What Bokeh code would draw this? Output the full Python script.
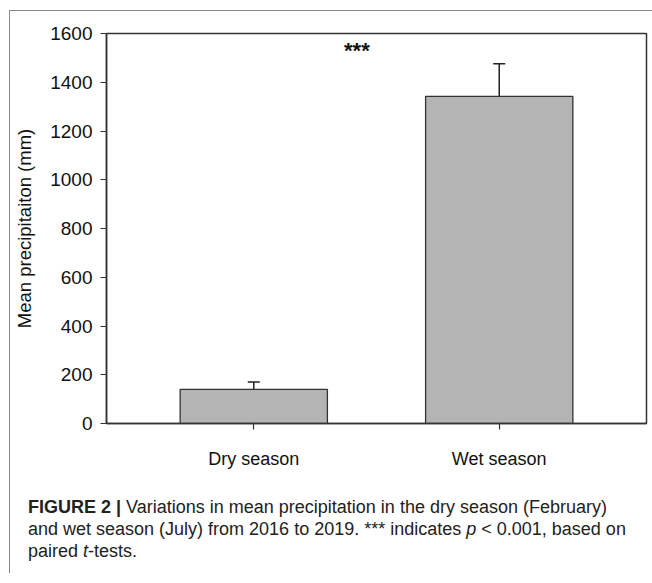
from bokeh.plotting import figure
from bokeh.models import Range1d, FixedTicker, Whisker, TeeHead, ColumnDataSource, Div
from bokeh.layouts import column
from bokeh.core.properties import value
from bokeh.embed import file_html
from bokeh.resources import INLINE

# ---- data ----
categories = ["Dry season", "Wet season"]
mean_precip = [140, 1342]
error_up = [30, 134]
y_ticks = [0, 200, 400, 600, 800, 1000, 1200, 1400, 1600]
significance = "***"

positions = [i + 1 for i in range(len(categories))]
src = ColumnDataSource(dict(
    x=positions,
    top=mean_precip,
    upper=[m + e for m, e in zip(mean_precip, error_up)],
))

FONT = "Liberation Sans"

p = figure(width=638, height=480, output_backend="svg", toolbar_location=None,
           x_range=Range1d(0.4, 2.6), y_range=Range1d(0, 1600),
           min_border_left=96, min_border_right=2, min_border_top=22, min_border_bottom=68)
p.background_fill_color = "white"
p.border_fill_color = "white"
p.outline_line_color = "#333333"
p.outline_line_width = 1.5
p.grid.visible = False

p.vbar(x="x", top="top", width=0.6, source=src, fill_color="#b4b4b4",
       line_color="#333333", line_width=1.3)

wh = Whisker(base="x", lower="top", upper="upper", source=src,
             line_color="#222222", line_width=1.5, lower_head=None,
             upper_head=TeeHead(size=12, line_color="#222222", line_width=1.5))
p.add_layout(wh)

p.text(x=[1.42], y=[1530], text=[significance], text_align="center",
       text_baseline="middle", text_font=value(FONT), text_font_size="22px",
       text_font_style="bold", text_color="#111111")

# axes
p.xaxis.ticker = FixedTicker(ticks=positions)
p.xaxis.major_label_overrides = {pos: c for pos, c in zip(positions, categories)}
p.yaxis.ticker = FixedTicker(ticks=y_ticks)
p.yaxis.axis_label = "Mean precipitaiton (mm)"

for ax in (p.xaxis, p.yaxis):
    ax.axis_line_color = "#333333"
    ax.axis_line_width = 1.5
    ax.major_tick_line_color = "#333333"
    ax.major_tick_line_width = 1.2
    ax.major_tick_out = 6
    ax.major_tick_in = 0
    ax.minor_tick_line_color = None
    ax.major_label_text_font = FONT
    ax.major_label_text_color = "#111111"
    ax.axis_label_text_font = FONT
    ax.axis_label_text_font_style = "normal"
    ax.axis_label_text_color = "#111111"

p.xaxis.major_label_text_font_size = "18px"
p.yaxis.major_label_text_font_size = "19px"
p.yaxis.axis_label_text_font_size = "18.5px"
p.yaxis.major_label_standoff = 8
p.yaxis.axis_label_standoff = 12
p.xaxis.major_label_standoff = 19

caption_html = (
    '<div style="font-family:\'Liberation Sans Narrow\', \'Liberation Sans\', sans-serif; '
    'font-size:18px; line-height:22px; color:#222; padding-left:13px; white-space:nowrap;">'
    '<b>FIGURE 2 |</b> Variations in mean precipitation in the dry season (February)<br>'
    'and wet season (July) from 2016 to 2019. *** indicates <i>p</i> &lt; 0.001, based on<br>'
    'paired <i>t</i>-tests.'
    '</div>'
)
cap = Div(text=caption_html, width=638, height=72)

layout = column(p, cap, styles={"border-top": "1px solid #888888",
                                "border-left": "1px solid #888888",
                                "margin-top": "10px", "margin-left": "9px"})

open("out.html", "w").write(file_html(layout, INLINE))
